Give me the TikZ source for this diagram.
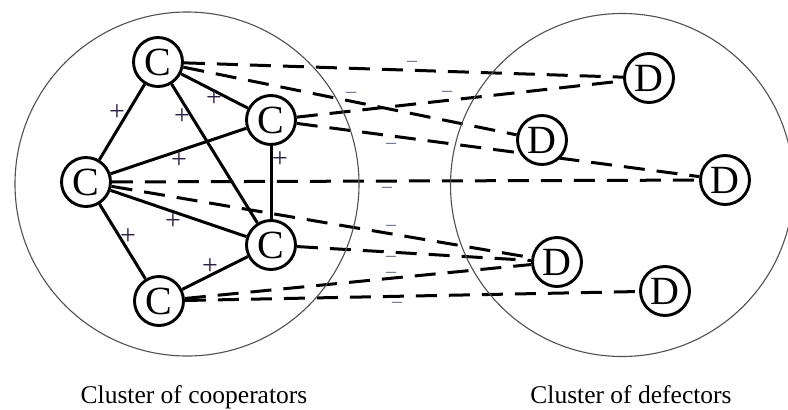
\documentclass[tikz,border=0pt]{standalone}
\usepackage{fontspec}
\setmainfont{Liberation Serif}
\pgfdeclarelayer{bg}
\pgfsetlayers{bg,main}
\definecolor{plusc}{HTML}{2E1F45}
\definecolor{minusc}{HTML}{5F6580}
\definecolor{clus}{HTML}{505050}
\begin{document}
\begin{tikzpicture}[x=1pt,y=-1pt,
  agent/.style={circle, draw, line width=2.9pt, fill=white, minimum size=49pt, inner sep=0pt, font=\fontsize{40}{40}\selectfont},
  tie/.style={line width=3pt},
  rival/.style={line width=3pt, dash pattern=on 21pt off 12pt},
  plab/.style={text=plusc, font=\fontsize{28}{28}\selectfont, inner sep=0pt},
  mlab/.style={text=minusc, font=\fontsize{20}{20}\selectfont, inner sep=0pt, text height=5.2pt, text depth=0pt, anchor=base},
  clusterc/.style={circle, draw=clus, line width=1.1pt, inner sep=0pt},
  caption/.style={font=\fontsize{25.5}{26}\selectfont, anchor=base, inner sep=0pt}]
\useasboundingbox (0,0) rectangle (788,410);
% clusters
\node[clusterc, minimum size=344pt] (L) at (187,184) {};
\node[clusterc, minimum size=343pt] (R) at (622,185) {};
% agents
\node[agent] (c1) at (158,62) {C};
\node[agent] (c2) at (271,120) {C};
\node[agent] (c3) at (86,182) {C};
\node[agent] (c4) at (271,245) {C};
\node[agent] (c5) at (159,301) {C};
\node[agent] (d1) at (649,78) {D};
\node[agent] (d2) at (542,140) {D};
\node[agent] (d3) at (725,180) {D};
\node[agent] (d4) at (557,262) {D};
\node[agent] (d5) at (665,291) {D};
% connectors
\begin{pgfonlayer}{bg}
\draw[tie] (c1) -- (c2);
\draw[tie] (c1) -- (c3);
\draw[tie] (c1) -- (c4);
\draw[tie] (c2) -- (c3);
\draw[tie] (c2) -- (c4);
\draw[tie] (c3) -- (c4);
\draw[tie] (c3) -- (c5);
\draw[tie] (c4) -- (c5);
\draw[rival] (c1) -- (d1);
\draw[rival] (c1) -- (d2);
\draw[rival] (c2) -- (d1);
\draw[rival] (c2) -- (d3);
\draw[rival] (c3) -- (d3);
\draw[rival] (c3) -- (d4);
\draw[rival] (c4) -- (d4);
\draw[rival] (c5) -- (d4);
\draw[rival] (c5) -- (d5);
\end{pgfonlayer}
% plus labels
\node[plab] (p1) at (117,113) {+};
\node[plab] (p2) at (182,117) {+};
\node[plab] (p3) at (214,99) {+};
\node[plab] (p4) at (179,161) {+};
\node[plab] (p5) at (280,160) {+};
\node[plab] (p6) at (128,237) {+};
\node[plab] (p7) at (173,222) {+};
\node[plab] (p8) at (210,267) {+};
% minus labels
\node[mlab] (m1) at (412,66.7) {–};
\node[mlab] (m2) at (351,97.7) {–};
\node[mlab] (m3) at (447,96.7) {–};
\node[mlab] (m4) at (391,148.7) {–};
\node[mlab] (m5) at (387,192.7) {–};
\node[mlab] (m6) at (391,230.7) {–};
\node[mlab] (m7) at (391,261.7) {–};
\node[mlab] (m8) at (391,277.7) {–};
\node[mlab] (m9) at (397,307.7) {–};
% captions
\node[caption] (t1) at (194,403) {Cluster of cooperators};
\node[caption] (t2) at (631,403) {Cluster of defectors};
\end{tikzpicture}
\end{document}
